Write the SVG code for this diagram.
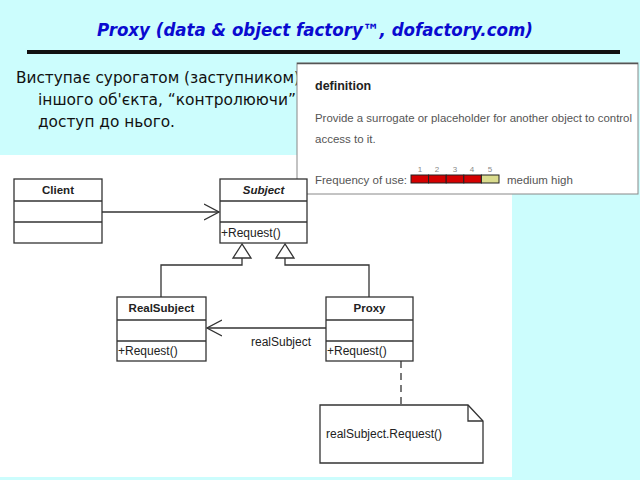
<svg xmlns="http://www.w3.org/2000/svg" width="640" height="480" viewBox="0 0 640 480">
<defs>
<style>
.uml{font-family:"Liberation Sans",Arial,sans-serif;font-size:12px;fill:#222}
.cn{font-family:"Liberation Sans",Arial,sans-serif;font-size:11.5px;font-weight:bold;fill:#222;text-anchor:middle}
.box{fill:#fff;stroke:#333;stroke-width:1.3}
.ln{stroke:#333;stroke-width:1.3;fill:none}
.def{font-family:"Liberation Sans",Arial,sans-serif;fill:#555;font-size:11.5px}
.body{font-family:"DejaVu Sans Condensed","DejaVu Sans",sans-serif;font-size:16px;fill:#111}
</style>
<marker id="open" markerWidth="16" markerHeight="18" refX="15" refY="9" orient="auto" markerUnits="userSpaceOnUse">
<path d="M0,1 L15,9 L0,17" fill="none" stroke="#333" stroke-width="1.3"/>
</marker>
</defs>
<rect x="0" y="0" width="640" height="480" fill="#ccfdfd"/>
<rect x="0" y="155" width="512" height="322" fill="#ffffff"/>
<g id="title">
<text x="315" y="36" text-anchor="middle" font-family="'DejaVu Sans',sans-serif" font-weight="bold" font-style="italic" font-size="17" fill="#0a0ad0" textLength="436" lengthAdjust="spacingAndGlyphs">Proxy (data &amp; object factory™, dofactory.com)</text>
<rect x="27" y="50" width="593" height="4" fill="#111"/>
</g>
<g id="body">
<text class="body" x="16" y="83" textLength="284" lengthAdjust="spacingAndGlyphs">Виступає сурогатом (заступником)</text>
<text class="body" x="38" y="105" textLength="258" lengthAdjust="spacingAndGlyphs">іншого об'єкта, “контролюючи”</text>
<text class="body" x="38" y="127" textLength="137" lengthAdjust="spacingAndGlyphs">доступ до нього.</text>
</g>
<g id="definition">
<rect x="297" y="63" width="341" height="131" fill="#fff" stroke="#888" stroke-width="1"/>
<line x1="297" y1="63.5" x2="638" y2="63.5" stroke="#555" stroke-width="1.5"/>
<text x="315" y="90" font-family="'Liberation Sans',Arial,sans-serif" font-weight="bold" font-size="12.5" fill="#222">definition</text>
<text class="def" x="315" y="122" textLength="317" lengthAdjust="spacingAndGlyphs">Provide a surrogate or placeholder for another object to control</text>
<text class="def" x="315" y="143">access to it.</text>
<text class="def" x="315" y="184">Frequency of use:</text>
<g font-family="'Liberation Sans',Arial,sans-serif" font-size="8" fill="#888" text-anchor="middle">
<text x="420" y="172">1</text><text x="437" y="172">2</text><text x="455" y="172">3</text><text x="472" y="172">4</text><text x="490" y="172">5</text>
</g>
<g stroke="#222" stroke-width="1">
<rect x="411" y="175" width="17.6" height="8" fill="#d40000"/>
<rect x="428.6" y="175" width="17.6" height="8" fill="#d40000"/>
<rect x="446.2" y="175" width="17.6" height="8" fill="#d40000"/>
<rect x="463.8" y="175" width="17.6" height="8" fill="#d40000"/>
<rect x="481.4" y="175" width="17.6" height="8" fill="#dadc8e"/>
</g>
<text class="def" x="507" y="184" font-size="12">medium high</text>
</g>
<g id="client">
<rect class="box" x="14" y="179" width="88" height="64"/>
<line class="ln" x1="14" y1="201" x2="102" y2="201"/>
<line class="ln" x1="14" y1="222" x2="102" y2="222"/>
<text class="cn" x="58" y="194">Client</text>
</g>
<g id="subject">
<rect class="box" x="220" y="179" width="87" height="64"/>
<line class="ln" x1="220" y1="201" x2="307" y2="201"/>
<line class="ln" x1="220" y1="222" x2="307" y2="222"/>
<text class="cn" x="263.5" y="194" font-style="italic">Subject</text>
<text class="uml" x="221" y="237">+Request()</text>
</g>
<g id="realsubject">
<rect class="box" x="117" y="297" width="89" height="64"/>
<line class="ln" x1="117" y1="320" x2="206" y2="320"/>
<line class="ln" x1="117" y1="341" x2="206" y2="341"/>
<text class="cn" x="161.5" y="312">RealSubject</text>
<text class="uml" x="118" y="355">+Request()</text>
</g>
<g id="proxy">
<rect class="box" x="326" y="297" width="87" height="64"/>
<line class="ln" x1="326" y1="320" x2="413" y2="320"/>
<line class="ln" x1="326" y1="341" x2="413" y2="341"/>
<text class="cn" x="369.5" y="312">Proxy</text>
<text class="uml" x="327" y="355">+Request()</text>
</g>
<g id="note">
<path d="M320,405 L468,405 L483,421 L483,463 L320,463 Z" fill="#fff" stroke="#333" stroke-width="1.3"/>
<path d="M468,405 L468,421 L483,421" fill="none" stroke="#333" stroke-width="1.3"/>
<text class="uml" x="326" y="438">realSubject.Request()</text>
</g>
<g id="connectors">
<line class="ln" x1="102" y1="212" x2="219" y2="212" marker-end="url(#open)"/>
<path class="ln" d="M242,258 L242,265 L161,265 L161,297"/>
<path d="M242,244 L233,258 L251,258 Z" fill="#fff" stroke="#333" stroke-width="1.3"/>
<path class="ln" d="M285,258 L285,265 L369,265 L369,297"/>
<path d="M285,244 L276,258 L294,258 Z" fill="#fff" stroke="#333" stroke-width="1.3"/>
<line class="ln" x1="326" y1="328" x2="207" y2="328" marker-end="url(#open)"/>
<text class="uml" x="251" y="346" fill="#444">realSubject</text>
<line class="ln" x1="401" y1="361" x2="401" y2="405" stroke-dasharray="7,5"/>
</g>
</svg>
